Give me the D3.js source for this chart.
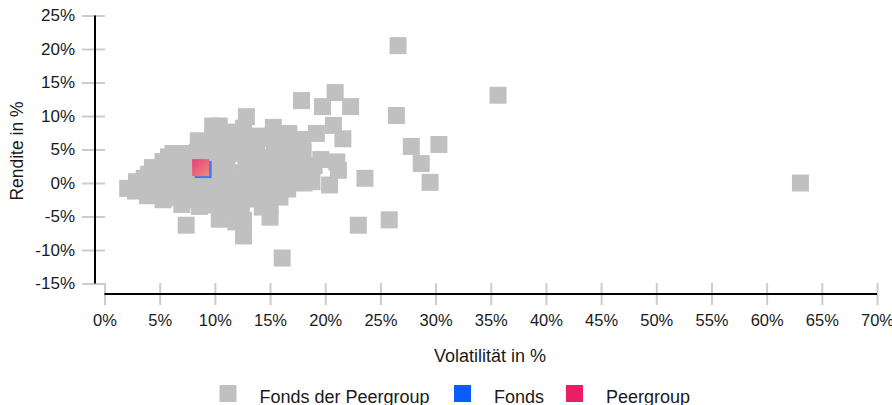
<!DOCTYPE html>
<html>
<head>
<meta charset="utf-8">
<script src="https://cdn.jsdelivr.net/npm/d3@7"></script>
<style>
  html, body { margin: 0; padding: 0; background: #fff; }
  svg { display: block; font-family: "Liberation Sans", Arial, sans-serif; }
</style>
</head>
<body>
<svg id="chart" width="892" height="405"></svg>
<script>
// ---- data ----
const peerVol = [
  2.1, 2.9, 2.8, 3.6, 3.7, 3.9, 4.0, 4.35, 4.3, 4.5,
  5.3, 5.2, 5.4, 5.1, 5.3, 5.8, 6.2, 6.1, 6.0, 6.2, 6.0,
  7.0, 7.2, 6.9, 7.1, 7.0, 7.0, 7.4, 7.8, 7.8, 7.9,
  8.5, 8.4, 8.6, 8.3, 8.5, 8.4, 8.6, 9.3, 9.2, 9.4, 9.3, 9.1,
  9.8, 10.4, 9.9, 10.1, 9.8, 10.2, 9.9, 10.1, 9.9, 10.4,
  11.2, 11.0, 11.3, 11.1, 10.9, 11.2, 11.0, 11.3, 11.9, 12.0, 12.1, 12.0,
  12.86, 12.6, 12.7, 12.5, 12.8, 12.6, 12.5, 12.7, 12.4, 12.6, 12.6,
  13.4, 13.3, 13.5, 14.0, 13.8, 14.1, 13.9, 14.2, 13.9, 14.3,
  15.3, 15.2, 15.4, 15.1, 15.3, 15.2, 15.0, 15.0, 15.0,
  16.0, 16.1, 15.9, 16.1, 16.7, 16.6, 16.8, 16.5, 16.7, 16.6,
  17.9, 18.0, 17.8, 18.0, 18.1,
  19.2, 19.0, 19.6, 18.8, 20.4, 21.05, 21.2, 20.74, 21.6,
  26.6, 17.85, 20.9, 19.75, 22.3, 26.45, 27.8, 30.3, 28.7, 29.5,
  23.6, 23.0, 25.8, 35.66, 63.06
];
const peerRet = [
  -0.8, 0.2, -1.2, 0.7, -0.6, -1.9, 1.3, 2.3, 0.2, -1.5,
  3.2, 1.6, 0.0, -1.3, -2.5, 3.9, 4.4, 2.4, 0.7, -0.9, -2.2,
  4.4, 2.9, 1.3, -0.4, -2.0, -3.2, -6.3, 3.6, 0.5, -2.5,
  6.3, 4.6, 3.0, 1.0, -0.5, -2.0, -3.5, 5.2, 3.6, 0.6, -1.2, -2.6,
  8.5, 8.5, 6.9, 5.2, 3.5, 1.8, 0.1, -1.6, -3.3, -5.4,
  7.6, 6.0, 4.4, 2.7, 1.0, -0.7, -2.4, -4.0, -5.8, 5.3, 0.2, -3.0,
  9.9, 8.2, 6.6, 4.9, 3.2, 1.5, -0.2, -1.9, -3.6, -5.6, -7.9,
  6.2, 0.9, -2.4, 7.0, 5.4, 3.8, 2.1, 0.4, -1.3, -3.6,
  8.3, 6.6, 4.9, 3.2, 1.5, -0.2, -1.9, -3.5, -5.1,
  5.6, 2.4, -2.1, -11.2, 7.4, 5.8, 4.1, 2.4, 0.7, -0.9,
  6.5, 4.8, 3.1, 1.5, 0.0,
  7.4, 2.6, 3.5, 0.2, -0.3, 3.15, 1.9, 8.6, 6.6,
  20.5, 12.3, 13.5, 11.4, 11.4, 10.07, 5.46, 5.75, 2.9, 0.1,
  0.7, -6.3, -5.5, 13.1, 0.0
];
const fondsVol = [8.94];
const fondsRet = [2.0];
const groupVol = [8.71];
const groupRet = [2.3];

const xTicks = [0, 5, 10, 15, 20, 25, 30, 35, 40, 45, 50, 55, 60, 65, 70];
const yTicks = [25, 20, 15, 10, 5, 0, -5, -10, -15];
const legendLabels = ["Fonds der Peergroup", "Fonds", "Peergroup"];
const legendColors = ["#c0c0c0", "#0a5cff", "#e91e63"];

// ---- chart ----
const svg = d3.select("#chart");
const x = d3.scaleLinear().domain([0, 70]).range([104.5, 877]);
const y = d3.scaleLinear().domain([-15, 25]).range([283.5, 15.5]);
const S = 17;
const FONT = "'Liberation Sans', Arial, sans-serif";

const defs = svg.append("defs");
const grad = defs.append("linearGradient").attr("id", "pg")
  .attr("x1", "0%").attr("y1", "0%").attr("x2", "100%").attr("y2", "100%");
grad.append("stop").attr("offset", "0%").attr("stop-color", "#e9407c");
grad.append("stop").attr("offset", "100%").attr("stop-color", "#e88c7a");

// y axis
const yAxis = d3.axisLeft(y).tickValues(yTicks).tickFormat(d => d + "%").tickSize(0).tickPadding(0);
const yg = svg.append("g").attr("transform", "translate(95,0)").call(yAxis);
yg.select(".domain").remove();
yg.selectAll(".tick text").attr("x", -20).attr("font-size", 17).attr("fill", "#1a1a1a")
  .attr("font-family", FONT);
yg.selectAll(".tick").append("line").attr("x1", -13).attr("x2", 10)
  .attr("stroke", "#cccccc").attr("stroke-width", 2);
svg.append("line").attr("x1", 95).attr("x2", 95).attr("y1", y(25)).attr("y2", y(-15))
  .attr("stroke", "#000").attr("stroke-width", 2);

// x axis
const xAxis = d3.axisBottom(x).tickValues(xTicks).tickFormat(d => d + "%").tickSize(0).tickPadding(0);
const xg = svg.append("g").attr("transform", "translate(0,294)").call(xAxis);
xg.select(".domain").remove();
xg.selectAll(".tick text").attr("y", 20).attr("font-size", 16.5).attr("fill", "#1a1a1a")
  .attr("font-family", FONT);
xg.selectAll(".tick").append("line").attr("y1", -11).attr("y2", 11)
  .attr("stroke", "#cccccc").attr("stroke-width", 2);
svg.append("line").attr("x1", x(0)).attr("x2", x(70)).attr("y1", 294).attr("y2", 294)
  .attr("stroke", "#000").attr("stroke-width", 2);

// titles
svg.append("text").attr("x", 490).attr("y", 362).attr("text-anchor", "middle")
  .attr("font-size", 18).attr("fill", "#1a1a1a").text("Volatilität in %");
svg.append("text").attr("transform", "translate(23,151) rotate(-90)").attr("text-anchor", "middle")
  .attr("font-size", 17.5).attr("fill", "#1a1a1a").text("Rendite in %");

// points
const peer = peerVol.map((v, i) => ({ v, r: peerRet[i] }));
svg.append("g").selectAll("rect").data(peer).join("rect")
  .attr("x", d => x(d.v) - S / 2).attr("y", d => y(d.r) - S / 2)
  .attr("width", S).attr("height", S).attr("fill", "#c0c0c0");

const fonds = fondsVol.map((v, i) => ({ v, r: fondsRet[i] }));
svg.append("g").selectAll("rect").data(fonds).join("rect")
  .attr("x", d => x(d.v) - S / 2).attr("y", d => y(d.r) - S / 2)
  .attr("width", S).attr("height", S).attr("fill", "#0a5cff").attr("fill-opacity", 0.7);

const group = groupVol.map((v, i) => ({ v, r: groupRet[i] }));
svg.append("g").selectAll("rect").data(group).join("rect")
  .attr("x", d => x(d.v) - S / 2).attr("y", d => y(d.r) - S / 2)
  .attr("width", S).attr("height", S).attr("fill", "url(#pg)");

// legend
const legX = [219.5, 454, 566];
const lg = svg.append("g");
legendLabels.forEach((t, i) => {
  lg.append("rect").attr("x", legX[i]).attr("y", 385).attr("width", S).attr("height", S)
    .attr("fill", legendColors[i]);
  lg.append("text").attr("x", legX[i] + 40).attr("y", 403).attr("font-size", 18)
    .attr("fill", "#1a1a1a").text(t);
});
</script>
</body>
</html>
